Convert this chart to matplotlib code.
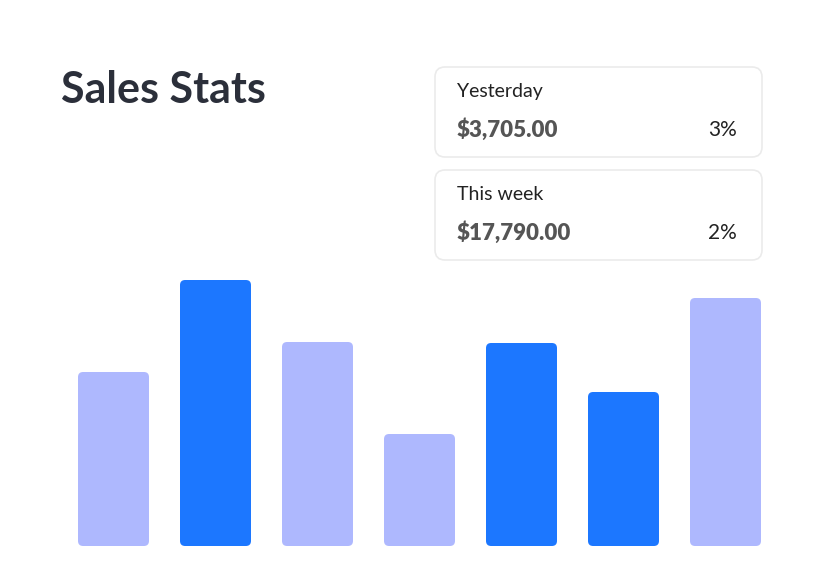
import matplotlib.pyplot as plt
from matplotlib.patches import FancyBboxPatch

# data
days = ["Mon", "Tue", "Wed", "Thu", "Fri", "Sat", "Sun"]
sales = [174, 266, 204, 112, 203, 154, 248]
highlight = [False, True, False, False, True, True, False]
card_labels = ["Yesterday", "This week"]
card_values = ["$3,705.00", "$17,790.00"]
card_pcts = ["3%", "2%"]

LIGHT = "#aeb8fe"
BLUE = "#1c77ff"

fig = plt.figure(figsize=(8.4, 5.8), dpi=100)
fig.patch.set_facecolor("white")

# bars: axes spans the whole figure, scaled so bars land in place
ax = fig.add_axes([0, 0, 1, 1])
ax.set_xlim(-113.5 / 102, (840 - 113.5) / 102)
ax.set_ylim(-34, 546)
ax.axis("off")
w = 71 / 102
for i, (v, h) in enumerate(zip(sales, highlight)):
    ax.add_patch(FancyBboxPatch((i - w / 2, 0), w, v,
                                boxstyle="round,pad=0,rounding_size=0.05",
                                mutation_aspect=102, linewidth=0,
                                facecolor=BLUE if h else LIGHT))

# overlay in pixel coordinates for title and cards
ov = fig.add_axes([0, 0, 1, 1])
ov.set_xlim(0, 840)
ov.set_ylim(580, 0)
ov.axis("off")
ov.patch.set_alpha(0)

ov.text(61, 90, "Sales Stats", fontsize=31, fontweight="bold",
        family="Lato", color="#2b2f3a", va="center")

for k, (lab, val, pct) in enumerate(zip(card_labels, card_values, card_pcts)):
    top = 67 + k * 103
    ov.add_patch(FancyBboxPatch((435, top), 327, 90,
                                boxstyle="round,pad=0,rounding_size=10",
                                facecolor="white", edgecolor="#ebebeb", linewidth=1.2))
    ov.text(457, top + 25, lab, fontsize=14, family="Lato", color="#222222", va="center")
    ov.text(457, top + 63, val, fontsize=16, fontweight="heavy", family="Lato",
            color="#555555", va="center")
    ov.text(737, top + 63, pct, fontsize=15, family="Lato", color="#222222",
            va="center", ha="right")

fig.savefig("out.png", dpi=100)
